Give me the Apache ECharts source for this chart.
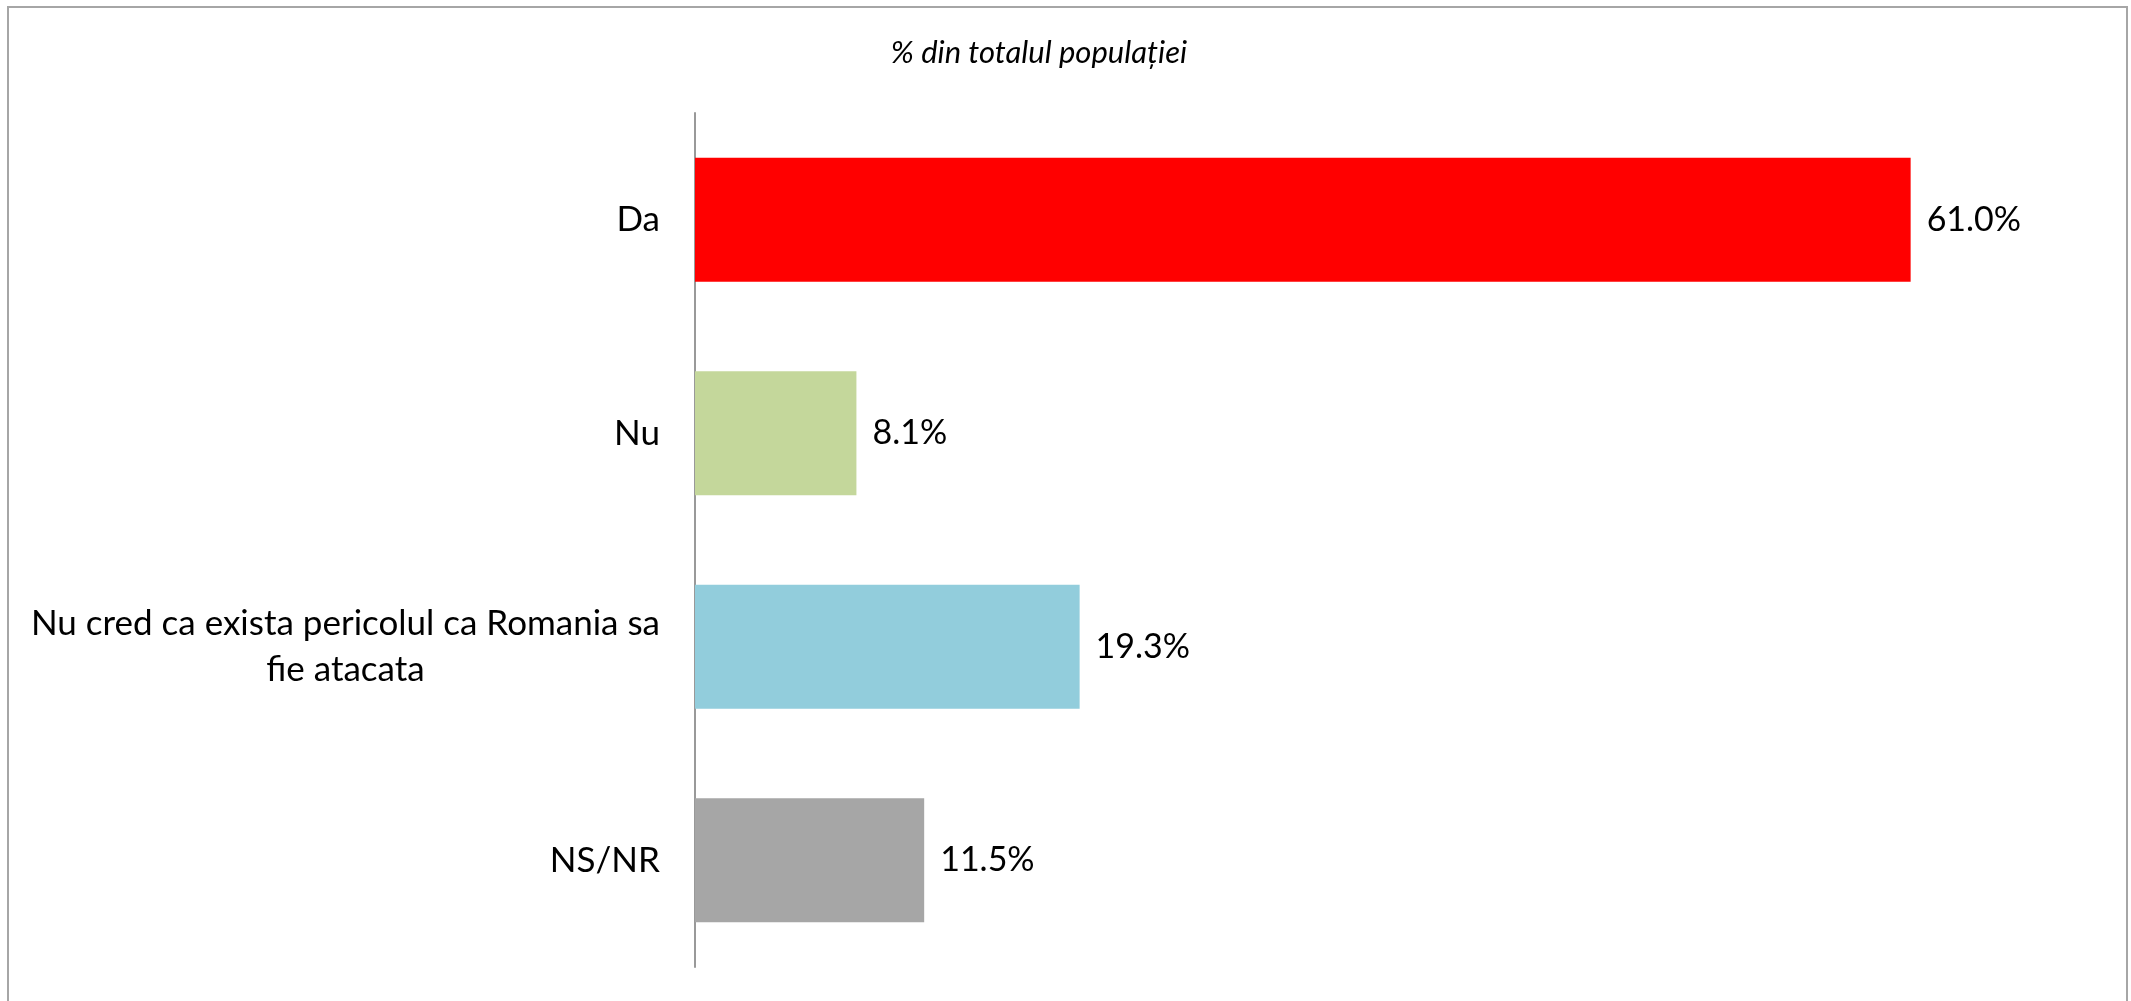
<!DOCTYPE html>
<html>
<head>
<meta charset="utf-8">
<script src="https://cdn.jsdelivr.net/npm/echarts@6/dist/echarts.min.js"></script>
<style>
  html, body { margin: 0; padding: 0; background: #fff; }
  #chart { width: 2131px; height: 1001px; }
</style>
</head>
<body>
<div id="chart"></div>
<script>
// Values (% of total population)
const categories = [
  "Da",
  "Nu",
  "Nu cred ca exista pericolul ca Romania sa\nfie atacata",
  "NS/NR",
]
const values = [61.0, 8.1, 19.3, 11.5]
const barColors = ["#FF0000", "#C4D79B", "#92CDDC", "#A6A6A6"]
const titleText = "% din totalul populației"

const FONT = "Lato, 'Liberation Sans', sans-serif"

const chart = echarts.init(document.getElementById("chart"), null, { renderer: "canvas" })

chart.setOption({
  backgroundColor: "#fff",
  animation: false,
  title: {
    text: titleText,
    left: 1034,
    top: 32,
    textAlign: "center",
    textStyle: { fontFamily: FONT, fontStyle: "italic", fontWeight: "normal", fontSize: 31, color: "#000" },
  },
  graphic: [
    {
      type: "rect",
      shape: { x: 8, y: 7, width: 2119, height: 1010 },
      style: { fill: "none", stroke: "#a6a6a6", lineWidth: 2 },
      silent: true,
    },
  ],
  grid: { left: 695, top: 113, width: 1395, height: 854 },
  xAxis: {
    type: "value",
    min: 0,
    max: 70,
    show: false,
  },
  yAxis: {
    type: "category",
    inverse: true,
    data: categories,
    axisLine: { show: true, lineStyle: { color: "#999", width: 2 } },
    axisTick: { show: false },
    axisLabel: {
      margin: 35,
      align: "right",
      fontFamily: FONT,
      fontSize: 35,
      color: "#000",
      formatter: (v) => v.split("\n").map((l) => "{c|" + l + "}").join("\n"),
      rich: {
        c: { align: "center", fontFamily: FONT, fontSize: 35, lineHeight: 46, color: "#000" },
      },
    },
  },
  series: [
    {
      type: "bar",
      barCategoryGap: "42%",
      data: values.map((v, i) => ({ value: v, itemStyle: { color: barColors[i] } })),
      label: {
        show: true,
        position: "right",
        distance: 16,
        fontFamily: FONT,
        fontSize: 34,
        color: "#000",
        formatter: (p) => p.value.toFixed(1) + "%",
      },
    },
  ],
})
</script>
</body>
</html>
